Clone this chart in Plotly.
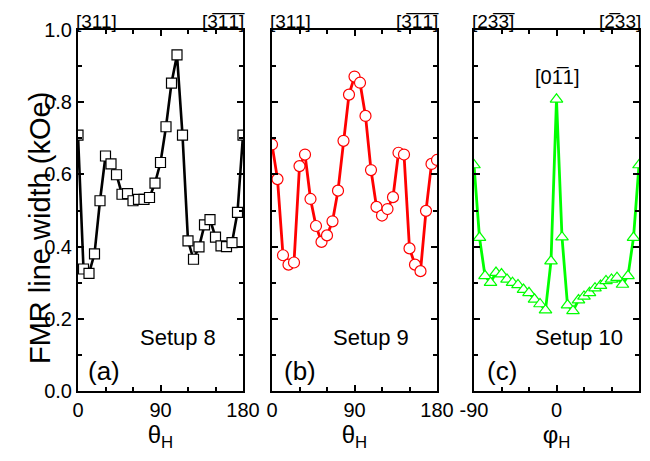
import plotly.graph_objects as go
from plotly.subplots import make_subplots

# ---- data ----
theta_a = [0, 6, 12, 18, 24, 30, 36, 42, 48, 54, 60, 66, 72, 78, 84, 90, 96, 102, 108, 114,
           120, 126, 132, 138, 144, 150, 156, 162, 168, 174, 180]
width_a = [0.709, 0.338, 0.326, 0.380, 0.527, 0.651, 0.629, 0.599, 0.545, 0.547, 0.527, 0.531,
           0.531, 0.536, 0.576, 0.633, 0.732, 0.853, 0.931, 0.709, 0.416, 0.365, 0.399, 0.460,
           0.475, 0.426, 0.402, 0.400, 0.411, 0.495, 0.709]

theta_b = [0, 6, 12, 18, 24, 30, 36, 42, 48, 54, 60, 66, 72, 78, 84, 90, 96, 102, 108, 114,
           120, 126, 132, 138, 144, 150, 156, 162, 168, 174, 180]
width_b = [0.683, 0.587, 0.376, 0.350, 0.356, 0.623, 0.655, 0.532, 0.457, 0.413, 0.431, 0.470,
           0.555, 0.693, 0.821, 0.871, 0.854, 0.762, 0.612, 0.510, 0.486, 0.504, 0.537, 0.660,
           0.655, 0.395, 0.350, 0.332, 0.499, 0.629, 0.640]

phi_c = [-90, -84, -78, -72, -66, -60, -54, -48, -42, -36, -30, -24, -18, -12, -6, 0,
         6, 12, 18, 24, 30, 36, 42, 48, 54, 60, 66, 72, 78, 84, 90]
width_c = [0.626, 0.425, 0.319, 0.300, 0.328, 0.324, 0.309, 0.300, 0.294, 0.281, 0.272, 0.254,
           0.241, 0.224, 0.360, 0.808, 0.426, 0.238, 0.222, 0.252, 0.262, 0.272, 0.285, 0.292,
           0.305, 0.309, 0.314, 0.295, 0.319, 0.425, 0.626]

theta_ticks = [0, 90, 180]
phi_ticks = [-90, 0, 90]
y_ticks = [0.0, 0.2, 0.4, 0.6, 0.8, 1.0]

OL = "\u0305"
dir_a = ["[311]", "[3" + OL + "1" + OL + "1" + OL + "]"]
dir_c = ["[23" + OL + "3" + OL + "]", "[2" + OL + "33]"]
dir_c_mid = "[01" + OL + "1]"
setups = ["Setup 8", "Setup 9", "Setup 10"]
panels = ["(a)", "(b)", "(c)"]

FONT = "Liberation Sans, Arial, sans-serif"

fig = make_subplots(rows=1, cols=3, horizontal_spacing=0.05)
W = 561.0
doms = [[0, 165 / W], [194 / W, 359 / W], [396 / W, 1.0]]

fig.add_trace(go.Scatter(x=theta_a, y=width_a, mode="lines+markers",
                         line=dict(color="black", width=2.6),
                         marker=dict(symbol="square", size=10, color="white",
                                     line=dict(color="black", width=1.2))), row=1, col=1)
fig.add_trace(go.Scatter(x=theta_b, y=width_b, mode="lines+markers",
                         line=dict(color="#ff0000", width=2.8),
                         marker=dict(symbol="circle", size=11, color="white",
                                     line=dict(color="#ff0000", width=1.2))), row=1, col=2)
fig.add_trace(go.Scatter(x=phi_c, y=width_c, mode="lines+markers",
                         line=dict(color="#00ff00", width=2.8),
                         marker=dict(symbol="triangle-up", size=11, color="white",
                                     line=dict(color="#00ff00", width=1.2))), row=1, col=3)

for i in range(3):
    xr = [0, 180] if i < 2 else [-90, 90]
    tv = theta_ticks if i < 2 else phi_ticks
    xt = "θ<sub>H</sub>" if i < 2 else "φ<sub>H</sub>"
    fig.update_xaxes(row=1, col=i + 1, domain=doms[i], range=xr, tickmode="array", tickvals=tv,
                     ticktext=[str(v) for v in tv], automargin=False,
                     ticks="inside", ticklen=6, tickwidth=1.5, tickcolor="black",
                     minor=dict(ticks="inside", dtick=30, ticklen=4, tickwidth=1.5, tickcolor="black"),
                     showline=True, linecolor="black", linewidth=2, mirror="ticks",
                     showgrid=False, zeroline=False,
                     tickfont=dict(family=FONT, size=20, color="black"),
                     title=dict(text=xt, font=dict(family=FONT, size=24, color="black"), standoff=4))
    fig.update_yaxes(row=1, col=i + 1, range=[0, 1.0], tickmode="array", tickvals=y_ticks,
                     ticktext=["%.1f" % v for v in y_ticks], showticklabels=(i == 0),
                     automargin=False,
                     ticks="inside", ticklen=6, tickwidth=1.5, tickcolor="black",
                     minor=dict(ticks="inside", dtick=0.1, ticklen=4, tickwidth=1.5, tickcolor="black"),
                     showline=True, linecolor="black", linewidth=2, mirror="ticks",
                     showgrid=False, zeroline=False,
                     tickfont=dict(family=FONT, size=20, color="black"))

ann = []
xrefs = ["x", "x2", "x3"]
yrefs = ["y", "y2", "y3"]
for i in range(3):
    left, right = (dir_a if i < 2 else dir_c)
    xl, xrr = (0, 180) if i < 2 else (-90, 90)
    ann.append(dict(text=left, x=xl, y=1.0, xref=xrefs[i], yref=yrefs[i], xanchor="left",
                    yanchor="bottom", showarrow=False, xshift=-4, yshift=-4,
                    font=dict(family=FONT, size=19, color="black")))
    ann.append(dict(text=right, x=xrr, y=1.0, xref=xrefs[i], yref=yrefs[i], xanchor="right",
                    yanchor="bottom", showarrow=False, xshift=4, yshift=-4,
                    font=dict(family=FONT, size=19, color="black")))
    sx = [109, 108, 25][i]
    ann.append(dict(text=setups[i], x=sx, y=0.147, xref=xrefs[i], yref=yrefs[i], showarrow=False,
                    font=dict(family=FONT, size=22, color="black")))
    px = [28, 30, -60][i]
    ann.append(dict(text=panels[i], x=px, y=0.055, xref=xrefs[i], yref=yrefs[i], showarrow=False,
                    font=dict(family=FONT, size=26, color="black")))
ann.append(dict(text=dir_c_mid, x=0, y=0.87, xref="x3", yref="y3", showarrow=False,
                font=dict(family=FONT, size=20, color="black")))
ann.append(dict(text="FMR line width (kOe)", x=-0.0998, y=0.4515, xref="paper", yref="paper",
                textangle=-90, showarrow=False, font=dict(family=FONT, size=29, color="black")))

# the page adds an 8px body margin, so the figure is 8px smaller on each axis
fig.update_layout(width=642, height=453, margin=dict(l=70, r=11, t=22, b=70),
                  plot_bgcolor="white", paper_bgcolor="white", showlegend=False,
                  annotations=ann, font=dict(family=FONT, color="black"))

fig.write_html("out.html")
